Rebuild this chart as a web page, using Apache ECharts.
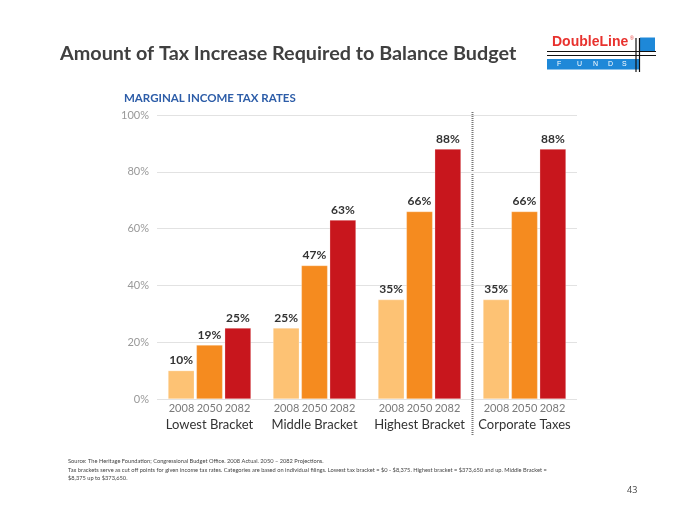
<!DOCTYPE html>
<html><head><meta charset="utf-8">
<script src="https://cdn.jsdelivr.net/npm/echarts@6/dist/echarts.min.js"></script>
<style>html,body{margin:0;padding:0;background:#fff}#c{width:700px;height:525px}</style>
</head><body><div id="c"></div>
<script>
const categories = ['Lowest Bracket', 'Middle Bracket', 'Highest Bracket', 'Corporate Taxes'];
const years = ['2008', '2050', '2082'];
const values2008 = [10, 25, 35, 35];
const values2050 = [19, 47, 66, 66];
const values2082 = [25, 63, 88, 88];
const yTicks = [0, 20, 40, 60, 80, 100];
const colors = ['#FDC274', '#F58B1F', '#C8161D'];

const chart = echarts.init(document.getElementById('c'));
const font = 'Lato, "Open Sans", sans-serif';
const seriesData = [values2008, values2050, values2082];

const option = {
  animation: false,
  textStyle: { fontFamily: font },
  grid: { left: 157, width: 420, top: 115, bottom: 126, containLabel: false },
  xAxis: {
    type: 'category',
    data: categories,
    axisLine: { show: false },
    axisTick: { show: false },
    axisLabel: {
      interval: 0,
      margin: 2,
      formatter: v => years.map(y => '{y|' + y + '}').join('') + '\n{c|' + v + '}',
      rich: {
        y: { width: 28, align: 'center', fontSize: 11, color: '#7a7a7a', fontFamily: font, lineHeight: 14 },
        c: { fontSize: 13, color: '#333', fontFamily: font, lineHeight: 19 }
      }
    }
  },
  yAxis: {
    type: 'value', min: yTicks[0], max: yTicks[yTicks.length - 1], interval: 20,
    axisLine: { show: false }, axisTick: { show: false },
    axisLabel: { formatter: '{value}%', color: '#999', fontSize: 11, margin: 8, fontFamily: font },
    splitLine: { lineStyle: { color: '#e2e2e2', width: 1 } }
  },
  series: years.map((y, i) => ({
    name: y, type: 'bar', data: seriesData[i],
    barGap: '8%', barCategoryGap: '21%',
    itemStyle: { color: colors[i], borderColor: 'rgba(255,255,255,0.5)', borderWidth: 0.5 },
    label: { show: true, position: 'top', formatter: '{c}%', fontWeight: 'bold', fontSize: 12, color: '#333', distance: 4, fontFamily: font }
  })),
  graphic: []
};
chart.setOption(option);

const c3 = chart.convertToPixel({ xAxisIndex: 0 }, 2);
const c4 = chart.convertToPixel({ xAxisIndex: 0 }, 3);
const sepX = Math.round((c3 + c4) / 2) + 0.5;
const topY = chart.convertToPixel({ yAxisIndex: 0 }, 100);

const noteFont = '5.7px Lato, sans-serif';
const funds = ['F', 'U', 'N', 'D', 'S'];
const fundsX = [557, 577, 593, 608, 622];
const graphics = [
  { type: 'line', shape: { x1: sepX, y1: topY - 3, x2: sepX, y2: topY + 320 }, style: { stroke: '#777', lineWidth: 2, lineDash: [1, 1] } },
  { type: 'text', left: 60, top: 44, style: { text: 'Amount of Tax Increase Required to Balance Budget', font: 'bold 19.8px ' + font, fill: '#404040' } },
  { type: 'text', left: 124, top: 92, style: { text: 'MARGINAL INCOME TAX RATES', font: 'bold 11.5px ' + font, fill: '#2D5DA8' } },
  { type: 'text', left: 68, top: 458.5, style: { text: 'Source: The Heritage Foundation; Congressional Budget Office. 2008 Actual. 2050 – 2082 Projections.', font: noteFont, fill: '#444' } },
  { type: 'text', left: 68, top: 467, style: { text: 'Tax brackets serve as cut off points for given income tax rates. Categories are based on individual filings. Lowest tax bracket = $0 - $8,375. Highest bracket = $373,650 and up. Middle Bracket =', font: noteFont, fill: '#444' } },
  { type: 'text', left: 68, top: 475.5, style: { text: '$8,375 up to $373,650.', font: noteFont, fill: '#444' } },
  { type: 'text', left: 627, top: 486, style: { text: '43', font: '9px "Open Sans", sans-serif', fill: '#444' } },
  // logo
  { type: 'rect', shape: { x: 547, y: 59, width: 93, height: 10.5 }, style: { fill: '#1E88D8' } },
  { type: 'rect', shape: { x: 640, y: 37.5, width: 15, height: 13.5 }, style: { fill: '#1E88D8' } },
  { type: 'text', left: 552, top: 35, style: { text: 'DoubleLine', font: 'bold 14px "Liberation Sans", Arial, sans-serif', fill: '#E8322E' } },
  { type: 'text', left: 630, top: 36, style: { text: '®', font: '5px sans-serif', fill: '#E8322E' } },
  ...funds.map((f, i) => ({ type: 'text', left: fundsX[i], top: 60.5, style: { text: f, font: '7px "Liberation Sans", sans-serif', fill: '#fff' } })),
  { type: 'line', shape: { x1: 547, y1: 51.5, x2: 656, y2: 51.5 }, style: { stroke: '#111', lineWidth: 1.2 } },
  { type: 'line', shape: { x1: 547, y1: 55.5, x2: 656, y2: 55.5 }, style: { stroke: '#111', lineWidth: 1.2 } },
  { type: 'line', shape: { x1: 636, y1: 38, x2: 636, y2: 72 }, style: { stroke: '#111', lineWidth: 1.2 } },
  { type: 'line', shape: { x1: 639.5, y1: 38, x2: 639.5, y2: 72 }, style: { stroke: '#111', lineWidth: 1.2 } }
];
chart.setOption({ graphic: graphics });
</script></body></html>
